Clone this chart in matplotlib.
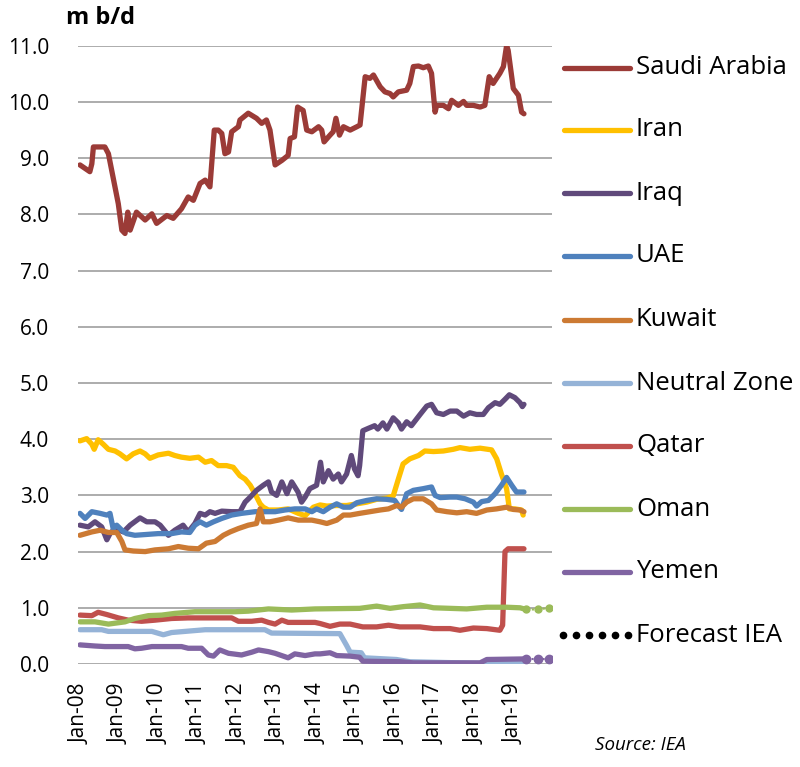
import matplotlib
matplotlib.use("Agg")
import matplotlib.pyplot as plt
from matplotlib.lines import Line2D

plt.rcParams['font.family'] = ['Open Sans', 'DejaVu Sans']

# --- data (time in fractional years, values in m b/d) ---
saudi_t = [2008.0, 2008.25, 2008.3, 2008.34, 2008.63, 2008.72, 2008.97, 2009.06, 2009.14, 2009.21,
           2009.27, 2009.43, 2009.65, 2009.82, 2009.94, 2010.2, 2010.36, 2010.57, 2010.74, 2010.87,
           2011.04, 2011.17, 2011.29, 2011.4, 2011.5, 2011.59, 2011.67, 2011.76, 2011.84, 2012.01,
           2012.05, 2012.26, 2012.47, 2012.6, 2012.72, 2012.81, 2012.94, 2013.11, 2013.27, 2013.32,
           2013.43, 2013.51, 2013.65, 2013.74, 2013.87, 2014.04, 2014.12, 2014.18, 2014.33, 2014.41,
           2014.48, 2014.57, 2014.67, 2014.84, 2015.01, 2015.09, 2015.22, 2015.34, 2015.43, 2015.6,
           2015.72, 2015.85, 2015.93, 2016.06, 2016.27, 2016.35, 2016.44, 2016.57, 2016.69, 2016.82,
           2016.9, 2016.99, 2017.03, 2017.2, 2017.33, 2017.41, 2017.58, 2017.71, 2017.79, 2017.96,
           2018.13, 2018.25, 2018.36, 2018.46, 2018.63, 2018.72, 2018.8, 2018.84, 2018.97, 2019.1,
           2019.18, 2019.24]
saudi_v = [8.88, 8.76, 8.9, 9.2, 9.2, 9.08, 8.19, 7.72, 7.66, 8.04,
           7.72, 8.04, 7.9, 8.01, 7.84, 7.98, 7.93, 8.1, 8.31, 8.25,
           8.55, 8.61, 8.49, 9.5, 9.5, 9.44, 9.08, 9.11, 9.47, 9.56,
           9.68, 9.8, 9.71, 9.62, 9.68, 9.5, 8.88, 8.96, 9.05, 9.35,
           9.38, 9.91, 9.85, 9.5, 9.47, 9.56, 9.5, 9.29, 9.41, 9.47,
           9.71, 9.41, 9.56, 9.5, 9.56, 9.59, 10.45, 10.42, 10.48, 10.27,
           10.18, 10.15, 10.09, 10.18, 10.21, 10.33, 10.63, 10.64, 10.61, 10.64,
           10.51, 9.82, 9.94, 9.94, 9.88, 10.03, 9.94, 10.01, 9.94, 9.94,
           9.91, 9.94, 10.45, 10.33, 10.51, 10.63, 11.0, 10.92, 10.24, 10.12,
           9.82, 9.79]

iran_t = [2008.0, 2008.17, 2008.3, 2008.36, 2008.46, 2008.59, 2008.72, 2008.89, 2009.01, 2009.18,
          2009.35, 2009.52, 2009.65, 2009.77, 2009.98, 2010.24, 2010.4, 2010.57, 2010.78, 2011.0,
          2011.17, 2011.33, 2011.5, 2011.71, 2011.88, 2012.05, 2012.18, 2012.31, 2012.43, 2012.56,
          2012.64, 2012.77, 2013.02, 2013.27, 2013.53, 2013.7, 2013.91, 2014.08, 2014.25, 2014.5,
          2014.75, 2015.01, 2015.26, 2015.51, 2015.76, 2015.93, 2016.06, 2016.18, 2016.35, 2016.57,
          2016.73, 2016.95, 2017.2, 2017.45, 2017.62, 2017.87, 2018.13, 2018.42, 2018.55, 2018.67,
          2018.8, 2018.87, 2019.01, 2019.18, 2019.22]
iran_v = [3.97, 4.01, 3.91, 3.82, 3.99, 3.91, 3.82, 3.79, 3.74, 3.65,
          3.74, 3.79, 3.74, 3.66, 3.72, 3.75, 3.71, 3.68, 3.66, 3.68,
          3.59, 3.62, 3.53, 3.53, 3.5, 3.35, 3.29, 3.18, 3.03, 2.85,
          2.79, 2.74, 2.74, 2.76, 2.68, 2.64, 2.79, 2.83, 2.81, 2.82,
          2.82, 2.85, 2.88, 2.93, 2.95, 2.99, 3.29, 3.56, 3.65, 3.71,
          3.79, 3.78, 3.79, 3.82, 3.85, 3.82, 3.84, 3.81, 3.65, 3.38,
          3.12, 2.76, 2.76, 2.74, 2.65]

iraq_t = [2008.0, 2008.21, 2008.38, 2008.55, 2008.68, 2008.76, 2008.89, 2009.1, 2009.27, 2009.52,
          2009.69, 2009.9, 2010.03, 2010.24, 2010.4, 2010.61, 2010.74, 2010.91, 2011.04, 2011.17,
          2011.29, 2011.42, 2011.59, 2011.84, 2012.05, 2012.18, 2012.31, 2012.47, 2012.64, 2012.77,
          2012.85, 2012.98, 2013.11, 2013.24, 2013.36, 2013.52, 2013.61, 2013.7, 2013.82, 2013.99,
          2014.09, 2014.16, 2014.29, 2014.41, 2014.54, 2014.62, 2014.75, 2014.87, 2014.95, 2015.04,
          2015.08, 2015.16, 2015.29, 2015.46, 2015.54, 2015.67, 2015.77, 2015.93, 2016.06, 2016.14,
          2016.27, 2016.39, 2016.61, 2016.78, 2016.9, 2017.03, 2017.2, 2017.37, 2017.54, 2017.71,
          2017.87, 2018.04, 2018.21, 2018.34, 2018.51, 2018.63, 2018.76, 2018.87, 2019.01, 2019.14,
          2019.2, 2019.24]
iraq_v = [2.47, 2.44, 2.53, 2.44, 2.21, 2.32, 2.41, 2.35, 2.47, 2.6,
          2.53, 2.53, 2.47, 2.29, 2.38, 2.47, 2.35, 2.5, 2.68, 2.65,
          2.71, 2.68, 2.72, 2.71, 2.71, 2.88, 2.97, 3.09, 3.18, 3.24,
          3.06, 3.0, 3.24, 3.03, 3.24, 3.06, 2.88, 2.97, 3.12, 3.18,
          3.59, 3.24, 3.44, 3.29, 3.38, 3.24, 3.38, 3.71, 3.47, 3.35,
          3.53, 4.15, 4.19, 4.24, 4.18, 4.29, 4.18, 4.38, 4.29, 4.18,
          4.31, 4.24, 4.44, 4.59, 4.62, 4.47, 4.44, 4.5, 4.5, 4.41,
          4.47, 4.44, 4.44, 4.56, 4.65, 4.62, 4.71, 4.79, 4.74, 4.65,
          4.58, 4.62]

uae_t = [2008.0, 2008.13, 2008.3, 2008.51, 2008.68, 2008.76, 2008.84, 2008.93, 2009.06, 2009.18,
         2009.39, 2009.98, 2010.32, 2010.57, 2010.78, 2010.91, 2011.04, 2011.2, 2011.38, 2011.59,
         2011.84, 2012.09, 2012.43, 2012.68, 2012.94, 2013.19, 2013.44, 2013.7, 2013.87, 2013.99,
         2014.16, 2014.33, 2014.5, 2014.67, 2014.84, 2015.01, 2015.26, 2015.51, 2015.76, 2015.97,
         2016.06, 2016.14, 2016.27, 2016.44, 2016.69, 2016.9, 2016.99, 2017.12, 2017.37, 2017.54,
         2017.75, 2017.96, 2018.04, 2018.17, 2018.34, 2018.51, 2018.67, 2018.8, 2018.93, 2019.05,
         2019.24]
uae_v = [2.68, 2.59, 2.71, 2.68, 2.65, 2.68, 2.41, 2.47, 2.38, 2.32,
         2.29, 2.32, 2.32, 2.35, 2.34, 2.47, 2.53, 2.47, 2.53, 2.59,
         2.65, 2.68, 2.71, 2.71, 2.71, 2.74, 2.76, 2.76, 2.71, 2.76,
         2.71, 2.79, 2.85, 2.79, 2.79, 2.87, 2.91, 2.94, 2.93, 2.91,
         2.82, 2.75, 3.03, 3.09, 3.12, 3.15, 3.0, 2.96, 2.97, 2.97,
         2.94, 2.88, 2.81, 2.89, 2.91, 3.03, 3.18, 3.32, 3.18, 3.06,
         3.06]

kuwait_t = [2008.0, 2008.3, 2008.51, 2008.72, 2008.93, 2009.06, 2009.14, 2009.35, 2009.65, 2009.9,
            2010.24, 2010.49, 2010.74, 2011.0, 2011.2, 2011.42, 2011.63, 2011.8, 2012.01, 2012.26,
            2012.47, 2012.56, 2012.64, 2012.81, 2013.02, 2013.27, 2013.53, 2013.87, 2014.08, 2014.25,
            2014.5, 2014.67, 2014.84, 2015.08, 2015.34, 2015.6, 2015.81, 2016.02, 2016.14, 2016.27,
            2016.44, 2016.69, 2016.9, 2017.03, 2017.29, 2017.54, 2017.79, 2018.04, 2018.3, 2018.55,
            2018.8, 2018.97, 2019.14, 2019.24]
kuwait_v = [2.29, 2.35, 2.38, 2.34, 2.34, 2.18, 2.03, 2.01, 2.0, 2.03,
            2.05, 2.09, 2.06, 2.05, 2.15, 2.18, 2.29, 2.35, 2.41, 2.47,
            2.5, 2.76, 2.53, 2.53, 2.56, 2.6, 2.56, 2.56, 2.53, 2.5,
            2.56, 2.65, 2.65, 2.68, 2.71, 2.74, 2.76, 2.82, 2.79, 2.88,
            2.94, 2.94, 2.85, 2.74, 2.71, 2.69, 2.71, 2.68, 2.74, 2.76,
            2.79, 2.75, 2.74, 2.71]

neutral_t = [2008.0, 2008.55, 2008.72, 2009.82, 2010.11, 2010.32, 2011.17, 2012.68, 2012.85, 2014.58,
             2014.75, 2014.84, 2015.12, 2015.2, 2016.01, 2016.35, 2018.3, 2019.24]
neutral_v = [0.61, 0.61, 0.58, 0.58, 0.52, 0.56, 0.61, 0.61, 0.55, 0.54,
             0.33, 0.21, 0.2, 0.11, 0.08, 0.04, 0.01, 0.01]

qatar_t = [2008.0, 2008.3, 2008.46, 2008.68, 2008.97, 2009.22, 2009.56, 2009.9, 2010.32, 2010.74,
           2011.25, 2011.84, 2012.01, 2012.35, 2012.6, 2012.77, 2012.94, 2013.11, 2013.27, 2013.95,
           2014.08, 2014.33, 2014.58, 2014.84, 2015.16, 2015.51, 2015.81, 2016.1, 2016.61, 2016.95,
           2017.37, 2017.62, 2017.96, 2018.3, 2018.63, 2018.7, 2018.76, 2018.84, 2019.24]
qatar_v = [0.87, 0.86, 0.92, 0.88, 0.82, 0.78, 0.76, 0.78, 0.81, 0.82,
           0.82, 0.82, 0.76, 0.76, 0.78, 0.74, 0.71, 0.78, 0.74, 0.74,
           0.72, 0.67, 0.71, 0.71, 0.66, 0.66, 0.69, 0.66, 0.66, 0.63,
           0.63, 0.6, 0.64, 0.63, 0.6, 0.69, 2.0, 2.05, 2.05]

oman_t = [2008.0, 2008.38, 2008.72, 2009.14, 2009.39, 2009.73, 2010.07, 2010.4, 2010.91, 2011.42,
          2011.93, 2012.26, 2012.77, 2013.36, 2013.95, 2015.08, 2015.51, 2015.85, 2016.18, 2016.61,
          2016.95, 2017.37, 2017.79, 2018.3, 2018.8, 2019.14, 2019.3]
oman_v = [0.75, 0.75, 0.71, 0.75, 0.81, 0.86, 0.87, 0.9, 0.93, 0.93,
          0.93, 0.94, 0.98, 0.96, 0.98, 0.99, 1.03, 0.99, 1.02, 1.05,
          1.0, 0.99, 0.98, 1.01, 1.01, 1.0, 0.97]

yemen_t = [2008.0, 2008.38, 2008.63, 2009.22, 2009.39, 2009.56, 2009.82, 2010.57, 2010.74, 2011.08,
           2011.25, 2011.38, 2011.54, 2011.76, 2012.09, 2012.35, 2012.52, 2012.77, 2012.94, 2013.27,
           2013.44, 2013.7, 2013.95, 2014.08, 2014.33, 2014.5, 2014.84, 2015.08, 2015.16, 2016.1,
           2016.44, 2018.13, 2018.3, 2019.24]
yemen_v = [0.34, 0.32, 0.31, 0.31, 0.27, 0.28, 0.31, 0.31, 0.28, 0.28,
           0.16, 0.14, 0.25, 0.19, 0.16, 0.21, 0.25, 0.22, 0.19, 0.11,
           0.18, 0.15, 0.18, 0.18, 0.2, 0.15, 0.14, 0.12, 0.05, 0.04,
           0.02, 0.02, 0.08, 0.09]

# IEA forecast points
oman_fc_t = [2019.3, 2019.6, 2019.88]
oman_fc_v = [0.97, 0.97, 1.0]
yemen_fc_t = [2019.3, 2019.6, 2019.88]
yemen_fc_v = [0.09, 0.09, 0.09]

tick_years = list(range(2008, 2020))
tick_labels = ["Jan-%02d" % (y % 100) for y in tick_years]

series = [
    ("Saudi Arabia", saudi_t, saudi_v, "#9b3b37"),
    ("Iran", iran_t, iran_v, "#ffc000"),
    ("Iraq", iraq_t, iraq_v, "#604a7b"),
    ("UAE", uae_t, uae_v, "#4f81bd"),
    ("Kuwait", kuwait_t, kuwait_v, "#cc7a33"),
    ("Neutral Zone", neutral_t, neutral_v, "#95b3d7"),
    ("Qatar", qatar_t, qatar_v, "#c0504d"),
    ("Oman", oman_t, oman_v, "#9bbb59"),
    ("Yemen", yemen_t, yemen_v, "#8064a2"),
]

fig = plt.figure(figsize=(8.0, 7.67), dpi=100)
ax = fig.add_axes([0.0975, 0.1343, 0.5925, 0.806])

lw = 3.8
for name, t, v, c in series:
    ax.plot(t, v, color=c, lw=lw, solid_capstyle='round', solid_joinstyle='round')

ax.plot(oman_fc_t, oman_fc_v, color="#9bbb59", lw=1.5, ls=':', marker='o', ms=5)
ax.plot(yemen_fc_t, yemen_fc_v, color="#8064a2", lw=1.5, ls=':', marker='o', ms=6)

ax.set_xlim(2007.95, 2019.95)
ax.set_ylim(0, 11)
ax.set_yticks(range(0, 12))
ax.set_yticklabels(["%.1f" % y for y in range(0, 12)], fontsize=15)
ax.set_xticks(tick_years)
ax.set_xticklabels(tick_labels, rotation=90, fontsize=15)
ax.tick_params(axis='both', length=0)
ax.tick_params(axis='y', pad=21)
ax.tick_params(axis='x', pad=14)
ax.grid(axis='y', color='#a6a6a6', lw=1.3)
ax.set_axisbelow(True)
for s in ax.spines.values():
    s.set_visible(False)

fig.text(66 / 800, 1 - 18 / 767, "m b/d", fontsize=17, fontweight='bold', va='center')

# legend drawn by hand on the right
leg_y = [68, 130, 193, 256, 320, 383, 446, 509, 572, 635]
for (name, t, v, c), yp in zip(series, leg_y):
    yf = 1 - yp / 767
    fig.add_artist(Line2D([564 / 800, 630 / 800], [yf, yf], color=c, lw=lw,
                          solid_capstyle='round'))
    fig.text(636 / 800, yf, name, fontsize=18.5, va='center')
yf = 1 - leg_y[-1] / 767
dot_x = [(563 + i * 13) / 800 for i in range(6)]
fig.add_artist(Line2D(dot_x, [yf] * 6, color='black', ls='none', marker='o', ms=4.5))
fig.text(636 / 800, yf, "Forecast IEA", fontsize=18.5, va='center')

fig.text(595 / 800, 1 - 745 / 767, "Source: IEA", fontsize=13.5, style='italic', va='center')

fig.savefig("out.png", dpi=100)
